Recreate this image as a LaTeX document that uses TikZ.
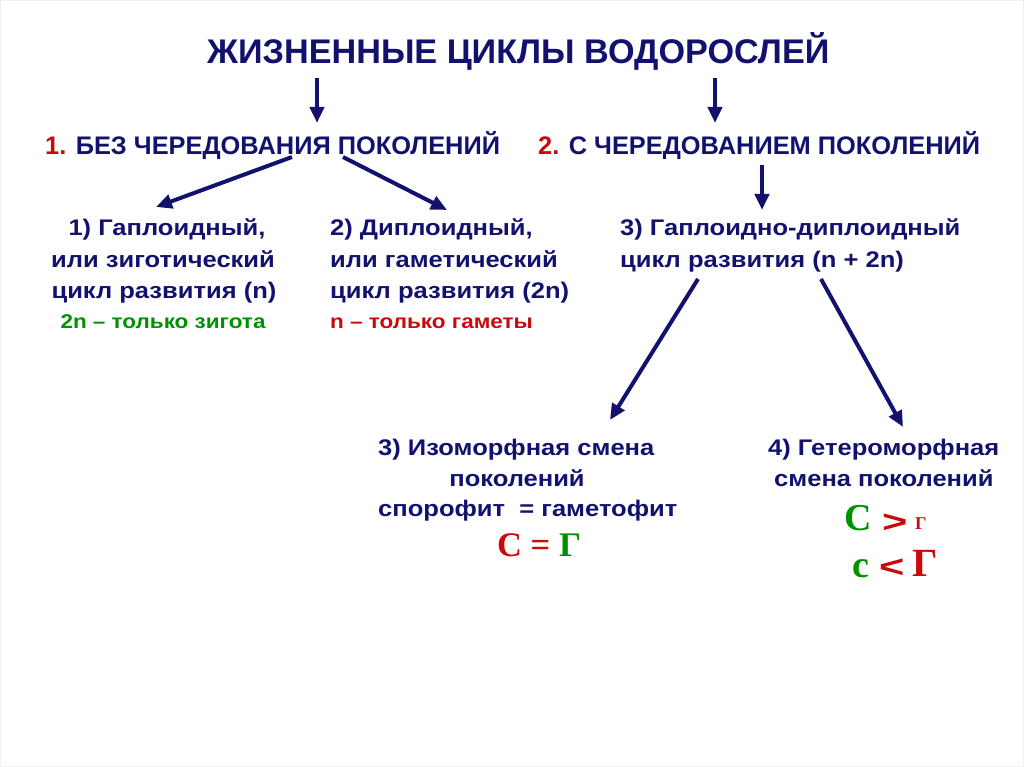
\documentclass[tikz,border=0pt]{standalone}
\usepackage{graphicx}
\usepackage{fontspec}
\setmainfont{Liberation Sans}
\newfontfamily\serifb{Liberation Serif}
\usetikzlibrary{arrows.meta}
\definecolor{navy}{RGB}{18,18,110}
\definecolor{myred}{RGB}{200,10,10}
\definecolor{mygreen}{RGB}{0,145,0}
\newcommand{\wid}[1]{\scalebox{1.13}[1]{#1}}
\newcommand{\widx}[1]{\scalebox{1.4}[1]{#1}}
\begin{document}
\begin{tikzpicture}[x=1pt,y=-1pt,
  every node/.style={text=navy,font=\bfseries,inner sep=0pt},
  big/.style={font=\bfseries\fontsize{34.2}{40}\selectfont},
  mid/.style={font=\bfseries\fontsize{25.4}{30}\selectfont},
  txt/.style={font=\bfseries\fontsize{22.6}{26}\selectfont},
  small/.style={font=\bfseries\fontsize{19.9}{24}\selectfont},
  sym/.style={font=\serifb\bfseries\fontsize{#1}{#1}\selectfont},
  ssym/.style={font=\bfseries\fontsize{#1}{#1}\selectfont},
  arr/.style={draw=navy,line width=4pt,-{Triangle[length=16pt,width=14pt]}}]
\useasboundingbox (0,0) rectangle (1024,767);
\draw[black!6,line width=1pt] (0.5,0.5) rectangle (1023.5,766.5);

\node[big,anchor=base west] (title) at (207,64) {ЖИЗНЕННЫЕ ЦИКЛЫ ВОДОРОСЛЕЙ};
\node[mid,anchor=base west] (g1) at (45,155) {\textcolor{myred}{1.} БЕЗ ЧЕРЕДОВАНИЯ ПОКОЛЕНИЙ};
\node[mid,anchor=base west] (g2) at (538,155) {\textcolor{myred}{2.} С ЧЕРЕДОВАНИЕМ ПОКОЛЕНИЙ};

% block 1
\node[txt,anchor=base] (b1a) at (167,236) {\wid{1) Гаплоидный,}};
\node[txt,anchor=base] (b1b) at (163,267.5) {\wid{или зиготический}};
\node[txt,anchor=base] (b1c) at (164,298.5) {\wid{цикл развития (n)}};
\node[small,anchor=base,text=mygreen] (b1d) at (163,328) {\wid{2n – только зигота}};
% block 2
\node[txt,anchor=base west] (b2a) at (330,236) {\wid{2) Диплоидный,}};
\node[txt,anchor=base west] (b2b) at (330,267.5) {\wid{или гаметический}};
\node[txt,anchor=base west] (b2c) at (330,298.5) {\wid{цикл развития (2n)}};
\node[small,anchor=base west,text=myred] (b2d) at (330,328) {\wid{n – только гаметы}};
% block 3
\node[txt,anchor=base west] (b3a) at (620,236) {\wid{3) Гаплоидно-диплоидный}};
\node[txt,anchor=base west] (b3b) at (620,267.5) {\wid{цикл развития (n + 2n)}};
% block 4
\node[txt,anchor=base west] (b4a) at (378,455) {\wid{3) Изоморфная смена}};
\node[txt,anchor=base] (b4b) at (517,486) {\wid{поколений}};
\node[txt,anchor=base west] (b4c) at (378,516) {\wid{спорофит\ \ = гаметофит}};
\node[sym=34.5,anchor=base west] (b4d) at (497,556) {\textcolor{myred}{С = }\textcolor{mygreen}{Г}};
% block 5
\node[txt,anchor=base west] (b5a) at (768,455) {\wid{4) Гетероморфная}};
\node[txt,anchor=base west] (b5b) at (774,486) {\wid{смена поколений}};
\node[sym=38,anchor=base west,text=mygreen] (c1) at (844,530) {С};
\node[ssym=31,anchor=base west,text=myred] (gt) at (882,532) {\widx{>}};
\node[sym=18,anchor=base west,text=myred] (g1s) at (915,529) {Г};
\node[sym=38,anchor=base west,text=mygreen] (c2) at (852,577) {с};
\node[ssym=31,anchor=base west,text=myred] (lt) at (879,577) {\widx{<}};
\node[sym=40,anchor=base west,text=myred] (g2b) at (912,576) {Г};

% arrows
\coordinate (t1) at (317,78);   \coordinate (t1e) at (317,123);
\coordinate (t2) at (715,78);   \coordinate (t2e) at (715,123);
\coordinate (l1) at (292,157);  \coordinate (l1e) at (156,207);
\coordinate (r1) at (343,157);  \coordinate (r1e) at (447,210);
\coordinate (d2) at (762,165);  \coordinate (d2e) at (762,210);
\coordinate (s3l) at (698,279); \coordinate (s3le) at (610,420);
\coordinate (s3r) at (821,279); \coordinate (s3re) at (903,427);
\draw[arr] (t1) -- (t1e);
\draw[arr] (t2) -- (t2e);
\draw[arr] (l1) -- (l1e);
\draw[arr] (r1) -- (r1e);
\draw[arr] (d2) -- (d2e);
\draw[arr] (s3l) -- (s3le);
\draw[arr] (s3r) -- (s3re);
\end{tikzpicture}
\end{document}
